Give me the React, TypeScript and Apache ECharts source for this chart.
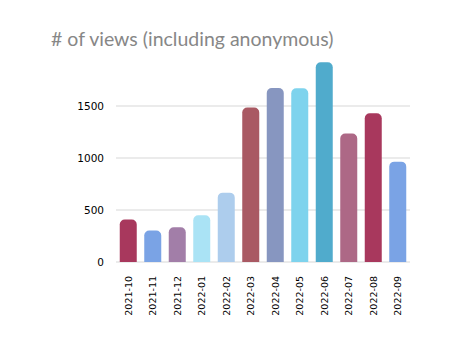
import React, { useEffect, useRef } from "react";
import * as echarts from "echarts";

const categories = ["2021-10", "2021-11", "2021-12", "2022-01", "2022-02", "2022-03", "2022-04", "2022-05", "2022-06", "2022-07", "2022-08", "2022-09"];
const views = [408, 302, 334, 449, 667, 1485, 1673, 1670, 1920, 1235, 1430, 965];
const barColors = ["#a8385d", "#7aa3e5", "#a27ea8", "#aae3f5", "#adcded", "#a95963", "#8796c0", "#7ed3ed", "#50abcc", "#ad6886", "#a8385d", "#7aa3e5"];
const titleText = "# of views (including anonymous)";

export default function App() {
  const ref = useRef<HTMLDivElement>(null);
  useEffect(() => {
    document.body.style.margin = "0";
    const chart = echarts.init(ref.current!, undefined, { renderer: "svg" });
    chart.setOption({
      animation: false,
      backgroundColor: "#ffffff",
      title: {
        text: titleText,
        left: 46,
        top: 23,
        textStyle: { fontFamily: "Lato", fontSize: 19.5, fontWeight: "normal", color: "#878787" },
      },
      grid: { left: 116, right: 53, top: 54, bottom: 93 },
      xAxis: {
        type: "category",
        data: categories,
        axisLine: { show: false },
        axisTick: { show: false },
        axisLabel: { rotate: 90, margin: 14, fontFamily: "DejaVu Sans", fontSize: 9.5, color: "#000" },
      },
      yAxis: {
        type: "value",
        min: 0,
        max: 2000,
        interval: 500,
        axisLabel: {
          showMaxLabel: false,
          margin: 12,
          fontFamily: "DejaVu Sans",
          fontSize: 10.5,
          color: "#000",
          formatter: (v: number) => String(v),
        },
        splitLine: { lineStyle: { width: 2, color: ["#ebebeb", "#ebebeb", "#ebebeb", "#ebebeb", "rgba(0,0,0,0)"] } },
      },
      series: [
        {
          type: "bar",
          barWidth: 17,
          data: views.map((v, i) => ({ value: v, itemStyle: { color: barColors[i] } })),
          itemStyle: { borderRadius: [5, 5, 0, 0] },
        },
      ],
    });
    return () => chart.dispose();
  }, []);
  return <div ref={ref} style={{ width: 463, height: 355 }} />;
}
